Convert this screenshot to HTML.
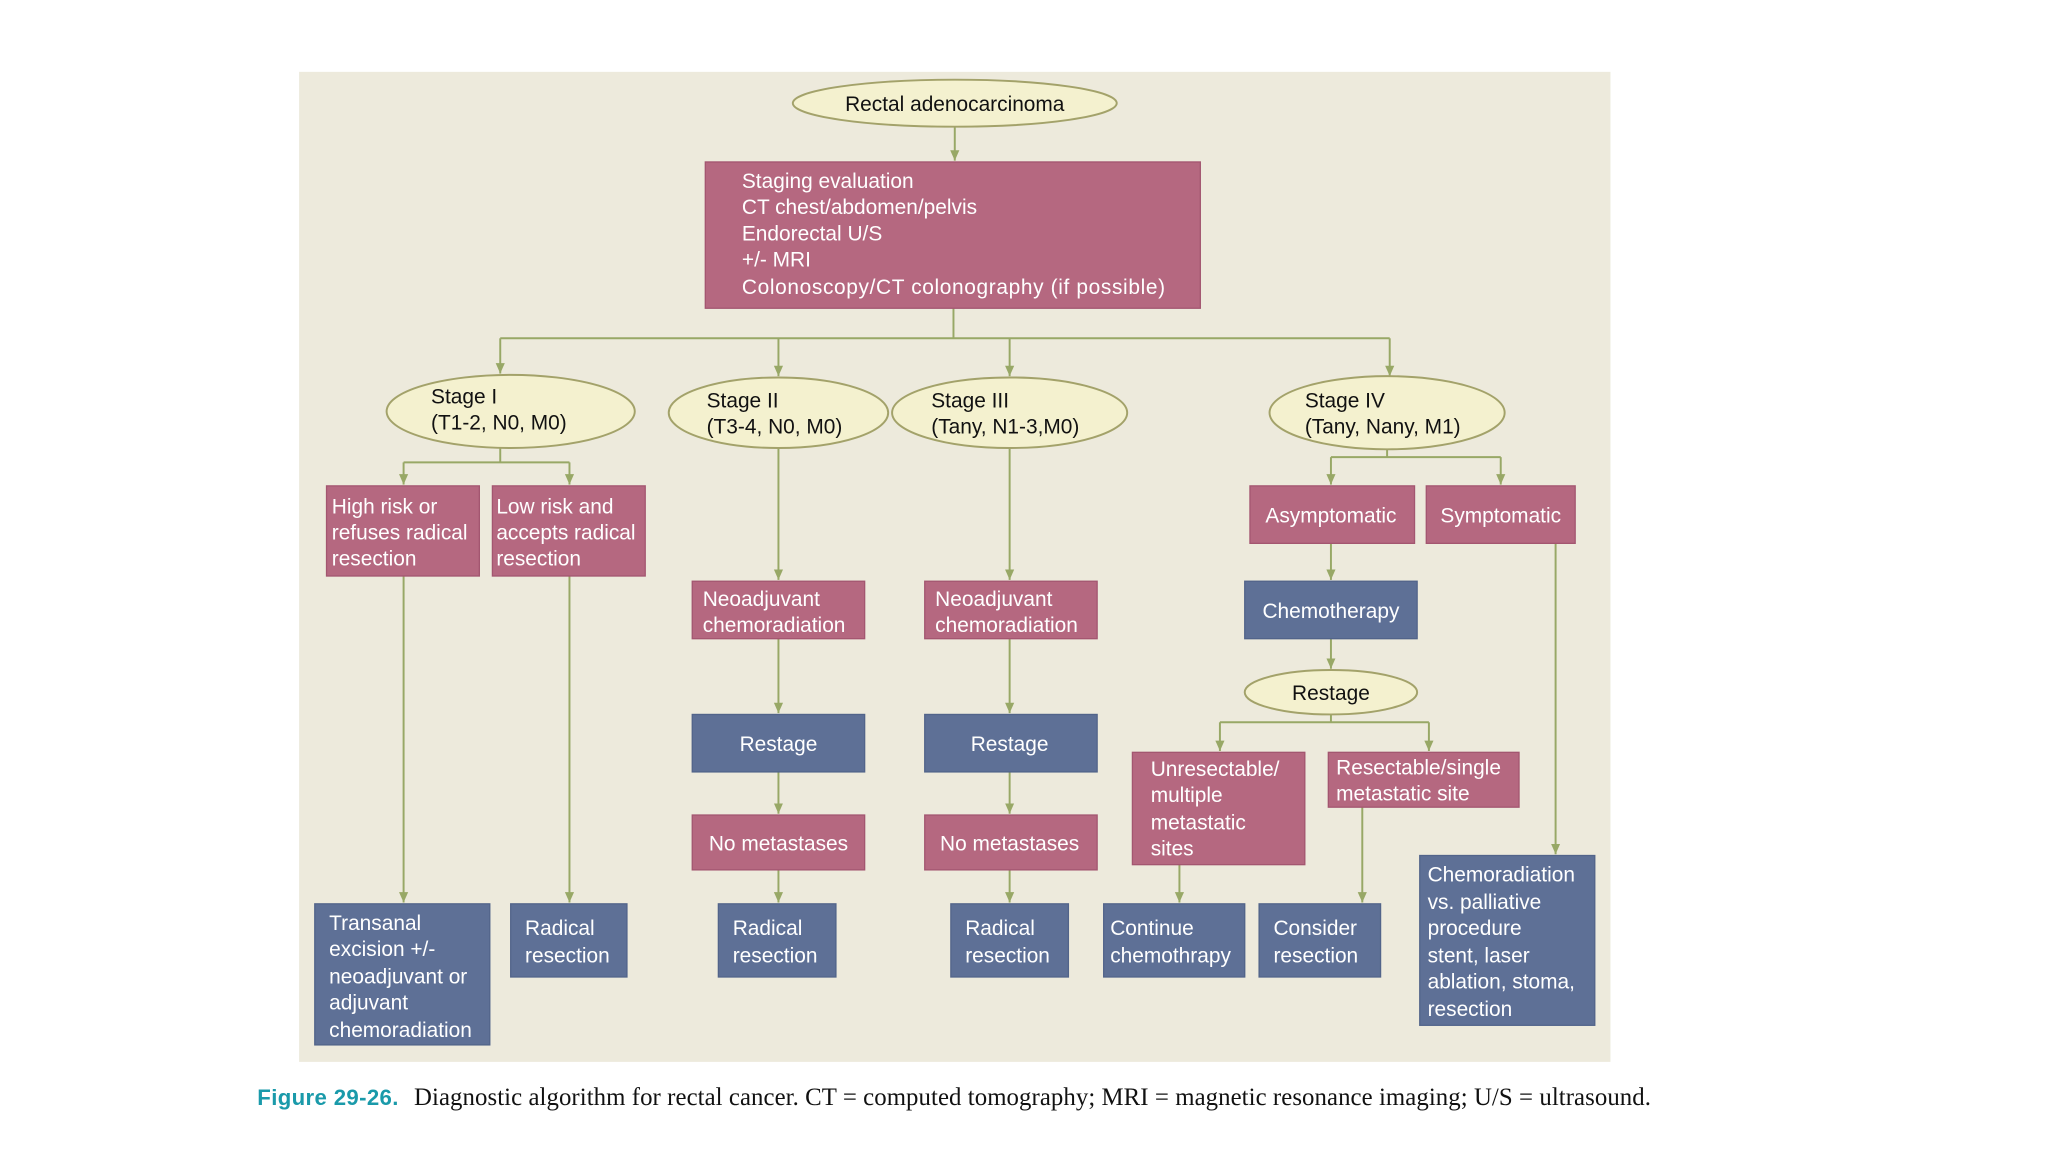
<!DOCTYPE html>
<html><head><meta charset="utf-8"><style>
html,body{margin:0;padding:0;background:#fff;width:2048px;height:1152px;overflow:hidden}
svg{display:block}
text{font-family:"Liberation Sans",Arial,sans-serif;font-size:16px}
.w{fill:#fff}
.k{fill:#111}
</style></head><body>
<svg width="2048" height="1152" viewBox="0 0 1568 882" xmlns="http://www.w3.org/2000/svg">
<defs><marker id="a" markerWidth="9" markerHeight="9" refX="8" refY="4" orient="auto" markerUnits="userSpaceOnUse"><path d="M0,0.5 L8,4 L0,7.5 Z" fill="#98a866"/></marker></defs>
<rect x="229" y="55" width="1004" height="758" fill="#edeadc"/>
<g stroke="#98a866" stroke-width="1.5" fill="none">
<line x1="731" y1="97" x2="731" y2="123" marker-end="url(#a)"/>
<line x1="730" y1="236" x2="730" y2="259"/>
<line x1="383" y1="259" x2="1064" y2="259"/>
<line x1="383" y1="259" x2="383" y2="286" marker-end="url(#a)"/>
<line x1="596" y1="259" x2="596" y2="288" marker-end="url(#a)"/>
<line x1="773" y1="259" x2="773" y2="288" marker-end="url(#a)"/>
<line x1="1064" y1="259" x2="1064" y2="288" marker-end="url(#a)"/>
<line x1="383" y1="343" x2="383" y2="354"/>
<line x1="309" y1="354" x2="436" y2="354"/>
<line x1="309" y1="354" x2="309" y2="371" marker-end="url(#a)"/>
<line x1="436" y1="354" x2="436" y2="371" marker-end="url(#a)"/>
<line x1="309" y1="441" x2="309" y2="691" marker-end="url(#a)"/>
<line x1="436" y1="441" x2="436" y2="691" marker-end="url(#a)"/>
<line x1="596" y1="343" x2="596" y2="444" marker-end="url(#a)"/>
<line x1="596" y1="489" x2="596" y2="546" marker-end="url(#a)"/>
<line x1="596" y1="591" x2="596" y2="623" marker-end="url(#a)"/>
<line x1="596" y1="666" x2="596" y2="691" marker-end="url(#a)"/>
<line x1="773" y1="343" x2="773" y2="444" marker-end="url(#a)"/>
<line x1="773" y1="489" x2="773" y2="546" marker-end="url(#a)"/>
<line x1="773" y1="591" x2="773" y2="623" marker-end="url(#a)"/>
<line x1="773" y1="666" x2="773" y2="691" marker-end="url(#a)"/>
<line x1="1062" y1="344" x2="1062" y2="350"/>
<line x1="1019" y1="350" x2="1149" y2="350"/>
<line x1="1019" y1="350" x2="1019" y2="371" marker-end="url(#a)"/>
<line x1="1149" y1="350" x2="1149" y2="371" marker-end="url(#a)"/>
<line x1="1019" y1="416" x2="1019" y2="444" marker-end="url(#a)"/>
<line x1="1019" y1="489" x2="1019" y2="512" marker-end="url(#a)"/>
<line x1="1019" y1="547" x2="1019" y2="553"/>
<line x1="934" y1="553" x2="1094" y2="553"/>
<line x1="934" y1="553" x2="934" y2="575" marker-end="url(#a)"/>
<line x1="1094" y1="553" x2="1094" y2="575" marker-end="url(#a)"/>
<line x1="903" y1="662" x2="903" y2="691" marker-end="url(#a)"/>
<line x1="1043" y1="618" x2="1043" y2="691" marker-end="url(#a)"/>
<line x1="1191" y1="416" x2="1191" y2="654" marker-end="url(#a)"/>
</g>
<g fill="#f4f1cf" stroke="#a3a26a" stroke-width="1.5">
<ellipse cx="731" cy="79" rx="124" ry="18"/>
<ellipse cx="391" cy="315" rx="95" ry="28"/>
<ellipse cx="596" cy="316" rx="84" ry="27"/>
<ellipse cx="773" cy="316" rx="90" ry="27"/>
<ellipse cx="1062" cy="316" rx="90" ry="28"/>
<ellipse cx="1019" cy="530" rx="66" ry="17"/>
</g>
<g fill="#b56880" stroke="#a35670" stroke-width="1">
<rect x="540" y="124" width="379" height="112"/>
<rect x="250" y="372" width="117" height="69"/>
<rect x="377" y="372" width="117" height="69"/>
<rect x="530" y="445" width="132" height="44"/>
<rect x="530" y="624" width="132" height="42"/>
<rect x="708" y="445" width="132" height="44"/>
<rect x="708" y="624" width="132" height="42"/>
<rect x="957" y="372" width="126" height="44"/>
<rect x="1092" y="372" width="114" height="44"/>
<rect x="867" y="576" width="132" height="86"/>
<rect x="1017" y="576" width="146" height="42"/>
</g>
<g fill="#5e7096" stroke="#52648a" stroke-width="1">
<rect x="241" y="692" width="134" height="108"/>
<rect x="391" y="692" width="89" height="56"/>
<rect x="530" y="547" width="132" height="44"/>
<rect x="550" y="692" width="90" height="56"/>
<rect x="708" y="547" width="132" height="44"/>
<rect x="728" y="692" width="90" height="56"/>
<rect x="953" y="445" width="132" height="44"/>
<rect x="845" y="692" width="108" height="56"/>
<rect x="964" y="692" width="93" height="56"/>
<rect x="1087" y="655" width="134" height="130"/>
</g>
<g class="k">
<text x="731" y="85" text-anchor="middle">Rectal adenocarcinoma</text>
<text x="330" y="309">Stage I</text><text x="330" y="329">(T1-2, N0, M0)</text>
<text x="541" y="312">Stage II</text><text x="541" y="332">(T3-4, N0, M0)</text>
<text x="713" y="312">Stage III</text><text x="713" y="332">(Tany, N1-3,M0)</text>
<text x="999" y="312">Stage IV</text><text x="999" y="332">(Tany, Nany, M1)</text>
<text x="1019" y="536" text-anchor="middle">Restage</text>
</g>
<g class="w">
<text x="568" y="144">Staging evaluation</text>
<text x="568" y="164">CT chest/abdomen/pelvis</text>
<text x="568" y="184">Endorectal U/S</text>
<text x="568" y="204">+/- MRI</text>
<text x="568" y="225" textLength="324">Colonoscopy/CT colonography (if possible)</text>
<text x="254" y="393">High risk or</text><text x="254" y="413">refuses radical</text><text x="254" y="433">resection</text>
<text x="380" y="393">Low risk and</text><text x="380" y="413">accepts radical</text><text x="380" y="433">resection</text>
<text x="538" y="464">Neoadjuvant</text><text x="538" y="484">chemoradiation</text>
<text x="716" y="464">Neoadjuvant</text><text x="716" y="484">chemoradiation</text>
<text x="596" y="575" text-anchor="middle">Restage</text>
<text x="773" y="575" text-anchor="middle">Restage</text>
<text x="596" y="651" text-anchor="middle">No metastases</text>
<text x="773" y="651" text-anchor="middle">No metastases</text>
<text x="252" y="712">Transanal</text><text x="252" y="732">excision +/-</text><text x="252" y="753">neoadjuvant or</text><text x="252" y="773">adjuvant</text><text x="252" y="794">chemoradiation</text>
<text x="402" y="716">Radical</text><text x="402" y="737">resection</text>
<text x="561" y="716">Radical</text><text x="561" y="737">resection</text>
<text x="739" y="716">Radical</text><text x="739" y="737">resection</text>
<text x="1019" y="400" text-anchor="middle">Asymptomatic</text>
<text x="1149" y="400" text-anchor="middle">Symptomatic</text>
<text x="1019" y="473" text-anchor="middle">Chemotherapy</text>
<text x="881" y="594">Unresectable/</text><text x="881" y="614">multiple</text><text x="881" y="635">metastatic</text><text x="881" y="655">sites</text>
<text x="1023" y="593">Resectable/single</text><text x="1023" y="613">metastatic site</text>
<text x="850" y="716">Continue</text><text x="850" y="737">chemothrapy</text>
<text x="975" y="716">Consider</text><text x="975" y="737">resection</text>
<text x="1093" y="675">Chemoradiation</text><text x="1093" y="696">vs. palliative</text><text x="1093" y="716">procedure</text><text x="1093" y="737">stent, laser</text><text x="1093" y="757">ablation, stoma,</text><text x="1093" y="778">resection</text>
</g>
<text x="197" y="846" textLength="108" style="font-family:'Liberation Sans',sans-serif;font-weight:bold;font-size:17px;fill:#1a9aaa">Figure 29-26.</text>
<text x="317" y="846" textLength="947" style="font-family:'Liberation Serif',serif;font-size:19px;fill:#111">Diagnostic algorithm for rectal cancer. CT = computed tomography; MRI = magnetic resonance imaging; U/S = ultrasound.</text>
</svg>
</body></html>
